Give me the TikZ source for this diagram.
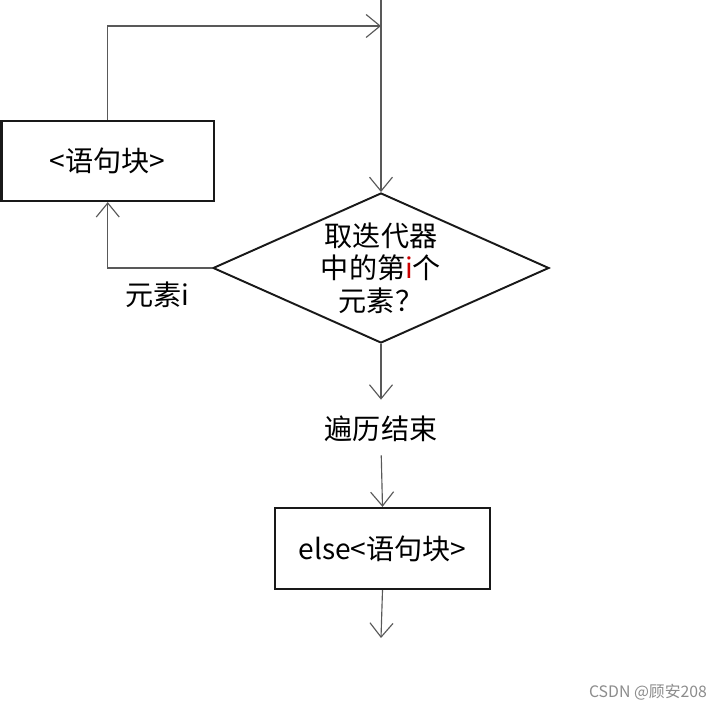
\documentclass[tikz,border=0pt]{standalone}
\usepackage{fontspec}
\setmainfont{Noto Sans CJK SC}
\usetikzlibrary{shapes.geometric,arrows.meta}
\begin{document}
\begin{tikzpicture}[
  blockbox/.style={draw=black!90,line width=1.3pt,minimum width=4.25cm,minimum height=1.6cm,inner sep=0pt,font=\fontsize{16}{18}\selectfont},
  testbox/.style={diamond,draw=black!90,line width=1.1pt,minimum width=6.72cm,minimum height=3cm,inner sep=0pt,aspect=2.24,align=center,font=\fontsize{16}{18.6}\selectfont},
  flowline/.style={draw=black!65,line width=0.65pt,-{Straight Barb[length=2.8mm,width=4.6mm]}},
  plaintext/.style={inner sep=0pt,text height=0.4cm,text depth=0.1cm,font=\fontsize{16}{18}\selectfont}]
\useasboundingbox (0,0) rectangle (14.34,-14.24);
\fill[white] (0,0) rectangle (14.34,-14.24);
% the loop, body on the left
\coordinate (in) at (7.62,0);
\coordinate (join) at (7.62,-0.52);
\node[blockbox] (body) at (2.155,-3.22) {<语句块>};
\node[testbox] (test) at (7.62,-5.36) {取迭代器\\中的第{\color{red!80!black}i}个\\元素？};
\node[plaintext] (elem) at (3.14,-5.96) {元素i};
% the way out, else and after
\node[plaintext] (done) at (7.62,-8.64) {遍历结束};
\node[blockbox,minimum width=4.3cm,minimum height=1.62cm] (elsebody) at (7.65,-10.97) {else<语句块>};
\coordinate (out) at (7.62,-12.76);
\draw[flowline] (in) -- (test.north);
\draw[flowline] (body.north) |- (join);
\draw[flowline] (test.west) -| (body.south);
\draw[flowline,shorten >=0.39cm] (test.south) -- (done.north);
\draw[flowline,shorten <=0.21cm] (done.south) -- (elsebody.north);
\draw[flowline] (elsebody.south) -- (out);
\node[text=black!45,inner sep=0pt,font=\fontsize{9}{10}\selectfont] (mark) at (12.96,-13.84) {CSDN @顾安208};
\end{tikzpicture}
\end{document}
